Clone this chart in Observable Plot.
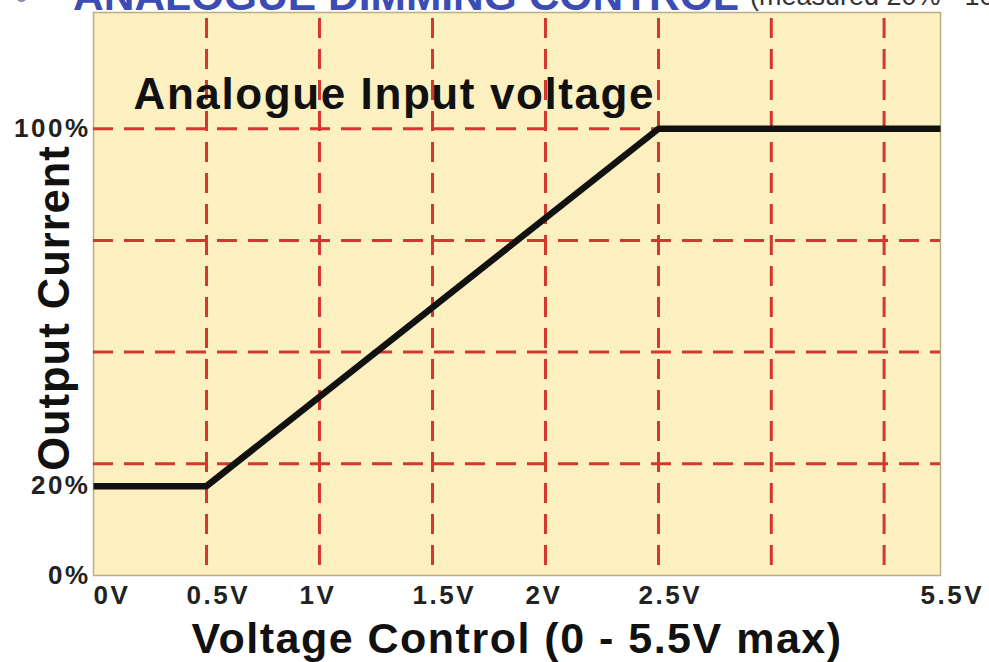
<!DOCTYPE html>
<html>
<head>
<meta charset="utf-8">
<script src="https://cdn.jsdelivr.net/npm/d3@7"></script>
<script src="https://cdn.jsdelivr.net/npm/@observablehq/plot@0.6"></script>
<style>
  html, body { margin: 0; padding: 0; background: #fff; overflow: hidden; }
  #wrap { position: relative; width: 989px; height: 662px; }
  #title { position: absolute; left: 0; top: -25px; white-space: nowrap; font-family: "Liberation Sans", Arial, sans-serif; line-height: 42px; }
  #title .bullet { position: absolute; left: 14px; color: #8a8fb0; font-size: 42px; }
  #title .main { position: absolute; left: 73px; color: #3b4db5; font-weight: bold; font-size: 42.5px; }
  #title .sub { position: absolute; left: 750px; color: #333; font-size: 27px; }
  #chart { position: absolute; left: 0; top: 0; }
</style>
</head>
<body>
<div id="wrap">
  <div id="chart"></div>
  <div id="title"><span class="bullet">•</span><span class="main">ANALOGUE DIMMING CONTROL</span><span class="sub">(measured 20% - 100%)</span></div>
</div>
<script>
// Data
const voltage = [0, 0.5, 2.5, 5.5];          // V
const current = [20, 20, 100, 100];          // % output current
const xTickValues = [0, 0.5, 1, 1.5, 2, 2.5, 5.5];
const xTickLabels = ["0V", "0.5V", "1V", "1.5V", "2V", "2.5V", "5.5V"];
const xGrid = [0.5, 1, 1.5, 2, 2.5, 3.7, 4.9];
const yGrid = [25, 50, 75, 100];
const yTickValues = [0, 20, 100];
const yTickLabels = ["0%", "20%", "100%"];

const series = voltage.map((v, i) => ({v, c: current[i]}));
const xTicks = xTickValues.map((v, i) => ({v, label: xTickLabels[i]}));
const yTicks = yTickValues.map((v, i) => ({v, label: yTickLabels[i]}));

const FONT = "Liberation Sans, Arial, sans-serif";
const RED = "#d3382e";

const chart = Plot.plot({
  width: 989,
  height: 662,
  marginLeft: 93,
  marginRight: 49,
  marginTop: 12,
  marginBottom: 87,
  style: {fontFamily: FONT, background: "transparent", overflow: "visible"},
  x: {type: "linear", domain: [0, 2.5, 5.5], range: [93, 658, 940], axis: null},
  y: {domain: [0, 126], axis: null},
  marks: [
    Plot.frame({fill: "#fcefc0", stroke: "#b9ae86", strokeWidth: 1.5}),
    Plot.ruleX(xGrid, {stroke: RED, strokeWidth: 3, strokeDasharray: "20,11", strokeDashoffset: -6}),
    Plot.ruleY(yGrid, {stroke: RED, strokeWidth: 3, strokeDasharray: "20,11", strokeDashoffset: 0}),
    Plot.line(series, {x: "v", y: "c", stroke: "#111", strokeWidth: 6.5, strokeLinejoin: "miter", strokeLinecap: "butt"}),
    Plot.text(["Analogue Input voltage"], {
      frameAnchor: "top-left", textAnchor: "start", lineAnchor: "bottom",
      dx: 40, dy: 96, fontSize: 44, fontWeight: "bold", fill: "#111"
    }),
    Plot.text(xTicks.slice(0, 1), {
      x: "v", text: "label", frameAnchor: "bottom", lineAnchor: "bottom", textAnchor: "start",
      dx: 0, dy: 28, fontSize: 26, fontWeight: "bold", fill: "#222"
    }),
    Plot.text(xTicks.slice(1), {
      x: "v", text: "label", frameAnchor: "bottom", lineAnchor: "bottom", textAnchor: "start",
      dx: -20, dy: 28, fontSize: 26, fontWeight: "bold", fill: "#222"
    }),
    Plot.text(yTicks, {
      y: "v", text: "label", frameAnchor: "left", textAnchor: "end", lineAnchor: "middle",
      dx: -3, fontSize: 26, fontWeight: "bold", fill: "#222"
    }),
    Plot.text(["Voltage Control (0 - 5.5V max)"], {
      frameAnchor: "bottom", textAnchor: "middle", lineAnchor: "bottom",
      dy: 77, fontSize: 43, fontWeight: "bold", fill: "#111"
    }),
    Plot.text(["Output Current"], {
      frameAnchor: "left", textAnchor: "middle", lineAnchor: "middle", rotate: -90,
      dx: -38, dy: 14, fontSize: 43.5, fontWeight: "bold", fill: "#111"
    })
  ]
});
// letter-spacing per text size
const spacing = {"26": "2.5px", "43": "1.5px", "44": "1.6px", "43.5": "1px"};
chart.querySelectorAll("text").forEach(t => {
  const g = t.closest("[font-size]");
  const fs = g ? g.getAttribute("font-size") : null;
  if (fs in spacing) t.style.letterSpacing = spacing[fs];
});
document.getElementById("chart").appendChild(chart);
</script>
</body>
</html>
